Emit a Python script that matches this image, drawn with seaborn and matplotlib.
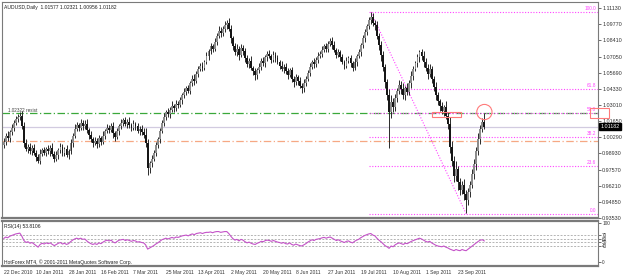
import numpy as np
import pandas as pd
import matplotlib
matplotlib.use("Agg")
import matplotlib.pyplot as plt
from matplotlib.patches import Rectangle
import seaborn as sns

# ---- values ----
chart_title = "AUDUSD,Daily"
last_ohlc = [1.01577, 1.02321, 1.00956, 1.01182]
rsi_caption = "RSI(14) 53.8106"
copyright_text = "HotForex MT4, \u00a9 2001-2011 MetaQuotes Software Corp."

first_open = 0.996
closes = [
    0.999, 1.004, 1.002, 1.007, 1.011, 1.015, 1.018, 1.020, 1.021, 1.012,
    0.998, 0.993, 0.995, 0.991, 0.994, 0.990, 0.986, 0.983, 0.989, 0.992,
    0.990, 0.993, 0.991, 0.994, 0.989, 0.985, 0.988, 0.992, 0.995, 0.990,
    0.993, 0.988, 0.991, 0.998, 1.004, 1.010, 1.013, 1.011, 1.015, 1.012,
    1.014, 1.009, 1.005, 1.001, 0.998, 1.000, 0.997, 1.002, 0.999, 1.004,
    1.008, 1.011, 1.009, 1.012, 1.006, 1.003, 1.008, 1.012, 1.015, 1.017,
    1.014, 1.016, 1.013, 1.011, 1.014, 1.012, 1.008, 1.010, 1.007, 1.005,
    0.998, 0.977, 0.981, 0.985, 0.990, 0.996, 1.001, 1.008, 1.015, 1.020,
    1.024, 1.022, 1.026, 1.029, 1.027, 1.031, 1.030, 1.034, 1.038, 1.041,
    1.044, 1.042, 1.048, 1.052, 1.050, 1.056, 1.060, 1.063, 1.061, 1.066,
    1.071, 1.075, 1.079, 1.077, 1.083, 1.088, 1.092, 1.090, 1.094, 1.097,
    1.099, 1.094, 1.086, 1.079, 1.074, 1.077, 1.072, 1.078, 1.075, 1.069,
    1.064, 1.067, 1.061, 1.058, 1.055, 1.059, 1.062, 1.067, 1.065, 1.070,
    1.073, 1.071, 1.068, 1.072, 1.069, 1.066, 1.063, 1.060, 1.062, 1.058,
    1.055, 1.059, 1.052, 1.049, 1.053, 1.050, 1.046, 1.044, 1.048, 1.052,
    1.057, 1.062, 1.066, 1.064, 1.068, 1.071, 1.073, 1.076, 1.079, 1.077,
    1.081, 1.084, 1.080, 1.076, 1.072, 1.074, 1.070, 1.066, 1.063, 1.067,
    1.069, 1.065, 1.061, 1.066, 1.071, 1.074, 1.080, 1.086, 1.091, 1.096,
    1.101, 1.104, 1.099, 1.097, 1.088, 1.080, 1.072, 1.062, 1.049, 1.038,
    1.024, 1.032, 1.028, 1.036, 1.042, 1.047, 1.043, 1.038, 1.044, 1.041,
    1.048, 1.054, 1.060, 1.065, 1.070, 1.074, 1.071, 1.066, 1.061, 1.056,
    1.060, 1.052, 1.045, 1.038, 1.033, 1.029, 1.025, 1.028, 1.021, 1.014,
    0.995, 0.983, 0.970, 0.976, 0.965, 0.959, 0.963, 0.955, 0.950, 0.957,
    0.963, 0.972, 0.980, 0.991, 1.001, 1.010, 1.0158, 1.01182,
]

# wick lengths above / below the candle body, in 0.001
upper_wicks = [
    3, 2, 4, 2, 3, 2, 3, 2, 3, 4, 4, 3, 2, 3, 2, 3, 2, 3, 4, 2,
    3, 2, 3, 2, 4, 2, 3, 2, 3, 2, 2, 3, 2, 3, 2, 4, 3, 2, 3, 2,
    3, 4, 2, 3, 2, 3, 2, 3, 2, 4, 2, 3, 2, 3, 4, 2, 3, 2, 3, 2,
    3, 2, 4, 2, 3, 2, 3, 2, 3, 4, 6, 3, 2, 3, 2, 3, 2, 3, 2, 3,
    2, 3, 2, 4, 2, 3, 2, 3, 2, 3, 2, 3, 2, 3, 4, 2, 3, 2, 3, 2,
    3, 2, 3, 2, 3, 2, 4, 3, 2, 3, 2, 4, 3, 2, 3, 4, 2, 3, 2, 3,
    3, 2, 4, 2, 3, 2, 3, 2, 3, 2, 2, 3, 2, 3, 2, 3, 2, 4, 2, 3,
    3, 2, 3, 2, 3, 2, 3, 2, 4, 2, 2, 3, 2, 3, 2, 3, 2, 3, 2, 3,
    3, 2, 3, 4, 2, 3, 2, 3, 2, 3, 2, 3, 2, 3, 2, 3, 2, 3, 3, 2,
    3, 4, 3, 2, 3, 2, 4, 3, 2, 3, 5, 6, 4, 3, 2, 4, 3, 5, 2, 4,
    3, 4, 3, 2, 3, 2, 3, 4, 3, 3, 4, 3, 2, 4, 3, 2, 3, 2, 5, 3,
    6, 5, 4, 7, 3, 4, 3, 5, 4, 3, 3, 4, 5, 4, 5, 3, 3, 7.4,
]
lower_wicks = [
    2, 3, 2, 3, 2, 3, 2, 2, 3, 2, 3, 2, 3, 2, 3, 2, 3, 2, 3, 2,
    2, 3, 2, 4, 2, 3, 2, 3, 2, 3, 3, 2, 3, 2, 3, 2, 2, 3, 2, 3,
    2, 3, 4, 2, 3, 2, 3, 2, 3, 2, 3, 2, 3, 2, 4, 3, 2, 3, 2, 3,
    2, 3, 2, 3, 2, 3, 2, 3, 2, 3, 3, 6, 4, 3, 2, 3, 2, 3, 2, 3,
    3, 2, 3, 2, 3, 2, 3, 2, 3, 2, 3, 2, 3, 2, 3, 2, 3, 2, 3, 2,
    2, 3, 2, 3, 2, 3, 2, 3, 2, 3, 3, 2, 4, 3, 2, 3, 4, 2, 3, 3,
    2, 3, 2, 3, 4, 3, 2, 3, 2, 3, 3, 2, 3, 2, 3, 2, 3, 2, 3, 2,
    3, 2, 3, 4, 2, 3, 2, 4, 3, 2, 2, 3, 2, 3, 2, 3, 2, 3, 2, 3,
    3, 2, 3, 2, 3, 2, 3, 2, 3, 2, 2, 3, 3, 2, 3, 2, 3, 2, 3, 2,
    2, 3, 3, 4, 3, 4, 5, 4, 5, 4, 30, 5, 4, 3, 4, 3, 4, 3, 4, 3,
    3, 4, 3, 2, 3, 4, 3, 4, 3, 4, 3, 4, 3, 4, 3, 4, 3, 4, 3, 4,
    5, 4, 5, 4, 6, 5, 4, 5, 11, 4, 4, 3, 4, 5, 3, 4, 3, 2.3,
]

# RSI(14) line, one value per bar
rsi_values = [
    60, 64, 62, 66, 68, 70, 72, 73, 74, 66,
    55, 50, 52, 48, 50, 46, 42, 38, 45, 48,
    46, 49, 47, 49, 45, 42, 45, 48, 50, 46,
    48, 45, 47, 52, 56, 59, 61, 59, 61, 58,
    59, 54, 50, 47, 45, 47, 45, 49, 47, 51,
    54, 56, 54, 56, 51, 49, 53, 56, 57, 58,
    55, 57, 55, 53, 55, 54, 51, 52, 50, 49,
    44, 33, 36, 39, 42, 46, 49, 53, 57, 59,
    61, 59, 61, 63, 61, 64, 63, 65, 67, 68,
    69, 67, 70, 72, 70, 73, 74, 75, 73, 75,
    76, 76, 77, 75, 77, 78, 78, 76, 77, 78,
    78, 73, 66, 60, 56, 58, 54, 58, 56, 52,
    49, 51, 48, 46, 45, 48, 50, 53, 52, 55,
    56, 55, 53, 55, 53, 51, 50, 48, 50, 47,
    46, 49, 45, 43, 46, 44, 42, 41, 44, 47,
    51, 54, 57, 55, 58, 59, 60, 62, 63, 61,
    63, 64, 61, 58, 55, 57, 54, 52, 50, 53,
    54, 51, 49, 53, 56, 58, 62, 65, 68, 70,
    72, 73, 69, 67, 61, 56, 52, 47, 42, 39,
    35, 41, 39, 44, 47, 49, 47, 45, 48, 47,
    50, 53, 55, 57, 59, 61, 59, 56, 53, 51,
    53, 49, 46, 43, 41, 40, 39, 41, 38, 36,
    33, 31, 29, 32, 30, 29, 32, 30, 29, 33,
    37, 41, 45, 49, 53, 56, 57, 53.81,
]

date_labels = ["22 Dec 2010", "10 Jan 2011", "28 Jan 2011", "16 Feb 2011",
               "7 Mar 2011", "25 Mar 2011", "13 Apr 2011", "2 May 2011",
               "20 May 2011", "8 Jun 2011", "27 Jun 2011", "19 Jul 2011",
               "10 Aug 2011", "1 Sep 2011", "23 Sep 2011"]
price_ticks = [1.1113, 1.0977, 1.0841, 1.0705, 1.0569, 1.0433, 1.0301,
               1.0165, 1.0029, 0.9893, 0.9757, 0.9621, 0.9485, 0.9353]
rsi_levels = [70, 60, 50, 40]

fib_high, fib_low = 1.1080, 0.9387
fib_high_bar, fib_low_bar = 181, 228
fib_levels = [0.0, 23.6, 38.2, 50.0, 61.8, 100.0]
green_level = 1.02322
green_note = "1.02322 resist"
orange_level = 0.9997

# ---- candle geometry ----
n = len(closes)
idx = np.arange(n)
c = np.array(closes)
o = np.array([first_open] + closes[:-1])
hi = np.maximum(o, c) + np.array(upper_wicks) * 0.001
lo = np.minimum(o, c) - np.array(lower_wicks) * 0.001
rsi_df = pd.DataFrame({"bar": idx, "rsi": rsi_values})

# ---- figure ----
sns.set_style("white")
plt.rcParams["font.family"] = ["Liberation Sans", "DejaVu Sans"]

W, H = 625, 276
fig = plt.figure(figsize=(6.25, 2.76), dpi=100)
ax = fig.add_axes([2 / W, 1 - 218 / H, 596 / W, 216 / H])
ax_rsi = fig.add_axes([2 / W, 1 - 266 / H, 596 / W, 45 / H], sharex=ax)

xlim = (-0.8, 293.0)
ax.set_xlim(*xlim)
ax.set_ylim(0.9351, 1.1163)

# horizontal reference lines
ax.axhline(c[-1], color="#d2cbe0", lw=0.9, zorder=1)
ax.axhline(green_level, color="#3aa83a", lw=0.9, ls=(0, (6, 2, 1, 2)), zorder=1)
ax.axhline(orange_level, color="#f6a884", lw=0.9, ls=(0, (6, 2, 1, 2)), zorder=1)
ax.text(2, green_level + 0.0008, green_note, fontsize=3.3, color="#404040")

# fibonacci retracement
fib_col = "#ff44ff"
for lv in fib_levels:
    p = fib_low + lv / 100 * (fib_high - fib_low)
    ax.plot([fib_high_bar - 1, xlim[1]], [p, p], color=fib_col, lw=0.8,
            ls=(0, (1, 1.5)), zorder=2)
    ax.text(xlim[1] - 0.8, p + 0.0006, f"{lv:.1f}", fontsize=3.4,
            color=fib_col, ha="right", va="bottom")
ax.plot([fib_high_bar, fib_low_bar], [fib_high, fib_low], color=fib_col,
        lw=0.8, ls=(0, (1, 1.5)), zorder=2)

# candles
bull = c >= o
ax.vlines(idx, lo, hi, color="#2a2a2a", lw=0.7, zorder=3)
body = np.maximum(np.abs(c - o), 0.0004)
ax.bar(idx, body, bottom=np.minimum(o, c), width=0.9,
       color=np.where(bull, "#8c8c8c", "#161616"), lw=0, zorder=4)

# marks drawn on the chart
red = "#ff7a7a"
ax.add_patch(Rectangle((211.3, 1.0198), 14.3, 0.0042, fill=False,
                       ec=red, lw=0.8, zorder=5))
ax.scatter([237], [1.0240], s=120, facecolors="none", edgecolors=red,
           linewidths=0.8, zorder=5)
ax.add_patch(Rectangle((0.9866, 1.0190), 0.032, 0.0084, fill=False, ec=red,
                       lw=0.8, transform=ax.get_yaxis_transform(),
                       clip_on=False, zorder=6))

# axes look
ax.yaxis.tick_right()
ax.set_yticks(price_ticks)
ax.set_yticklabels([f"{t:.5f}" for t in price_ticks])
ax.tick_params(axis="y", direction="out", length=2, width=0.5,
               colors="#333333", labelsize=3.9, pad=1)
ax.tick_params(axis="x", bottom=False, labelbottom=False)
for sp in ax.spines.values():
    sp.set_color("#7a7a7a")
    sp.set_linewidth(0.8)
ax.spines["bottom"].set_linewidth(1.6)
ax.text(1.004, c[-1], f"{c[-1]:.5f}", transform=ax.get_yaxis_transform(),
        fontsize=3.9, color="white", va="center", ha="left", zorder=7,
        bbox=dict(boxstyle="square,pad=0.25", fc="black", ec="black"),
        clip_on=False)
ax.text(0.004, 0.985, f"{chart_title}  " + " ".join(f"{v:.5f}" for v in last_ohlc),
        transform=ax.transAxes, fontsize=3.6, color="#202020", va="top")

# RSI panel
for lv in rsi_levels:
    ax_rsi.axhline(lv, color="#b4b4b4", lw=0.7, ls=(0, (2, 1.5)))
sns.lineplot(data=rsi_df, x="bar", y="rsi", ax=ax_rsi, color="#c452c8",
             lw=0.8)
ax_rsi.set_ylim(-10.3, 105.1)
ax_rsi.set_xlim(*xlim)
ax_rsi.yaxis.tick_right()
ax_rsi.set_yticks([100] + rsi_levels + [0])
ax_rsi.tick_params(axis="y", direction="out", length=2, width=0.5,
                   colors="#333333", labelsize=3.4, pad=1)
ax_rsi.set_xticks(range(0, 16 * len(date_labels), 16))
ax_rsi.set_xticklabels(date_labels, ha="left")
ax_rsi.tick_params(axis="x", direction="out", length=2, width=0.5,
                   colors="#333333", labelsize=3.6, pad=1)
ax_rsi.set_xlabel("")
ax_rsi.set_ylabel("")
for sp in ax_rsi.spines.values():
    sp.set_color("#7a7a7a")
    sp.set_linewidth(0.8)
ax_rsi.spines["top"].set_linewidth(1.6)
ax_rsi.spines["bottom"].set_linewidth(1.6)
ax_rsi.text(0.004, 0.93, rsi_caption, transform=ax_rsi.transAxes,
            fontsize=3.6, color="#202020", va="top")
ax_rsi.text(0.004, 0.02, copyright_text, transform=ax_rsi.transAxes,
            fontsize=3.6, color="#202020", va="bottom")

fig.savefig("out.png", dpi=100)
